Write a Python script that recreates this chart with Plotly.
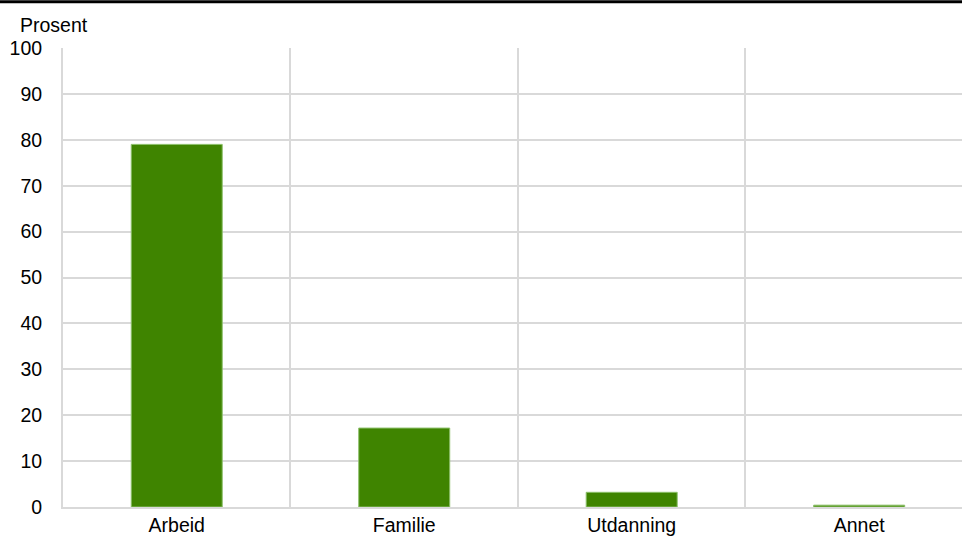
import plotly.graph_objects as go

categories = ["Arbeid", "Familie", "Utdanning", "Annet"]
values = [79.0, 17.2, 3.2, 0.4]
y_ticks = [0, 10, 20, 30, 40, 50, 60, 70, 80, 90, 100]

xpos = list(range(len(categories)))

fig = go.Figure()
fig.add_trace(go.Bar(
    x=xpos, y=values, width=0.4,
    marker=dict(color="#3f8400", line=dict(color="#8cc06a", width=1)),
    hoverinfo="skip",
))

grid = "#d9d9d9"
fig.update_layout(
    width=962, height=536,
    margin=dict(l=63, r=0, t=48, b=27),
    paper_bgcolor="white", plot_bgcolor="white",
    showlegend=False,
    font=dict(family="Liberation Sans, Arial, sans-serif", size=19.5, color="black"),
    xaxis=dict(
        range=[-0.5, 3.452],
        tickvals=xpos, ticktext=categories,
        showgrid=False, zeroline=False,
        showline=True, linecolor=grid, linewidth=2,
        ticks="", ticklen=0,
        minor=dict(tickvals=[0.5, 1.5, 2.5], showgrid=True, gridcolor=grid, gridwidth=2, ticks=""),
        fixedrange=True,
    ),
    yaxis=dict(
        range=[0, 100],
        tickvals=y_ticks,
        showgrid=True, gridcolor=grid, gridwidth=2,
        zeroline=False,
        showline=True, linecolor=grid, linewidth=2,
        ticks="outside", ticklen=15, tickcolor="rgba(0,0,0,0)",
        fixedrange=True,
    ),
    shapes=[dict(type="line", xref="paper", yref="paper",
                 x0=-0.1, x1=1.05, y0=1.1009, y1=1.1009,
                 line=dict(color="black", width=3))],
    annotations=[dict(text="Prosent", xref="paper", yref="paper",
                      x=-0.05, y=1.05, xanchor="left", yanchor="middle",
                      showarrow=False, font=dict(size=19.5))],
)

fig.write_html("out.html", config={"displayModeBar": False, "staticPlot": True},
               post_script="document.body.style.margin='0';document.body.style.overflow='hidden';")
